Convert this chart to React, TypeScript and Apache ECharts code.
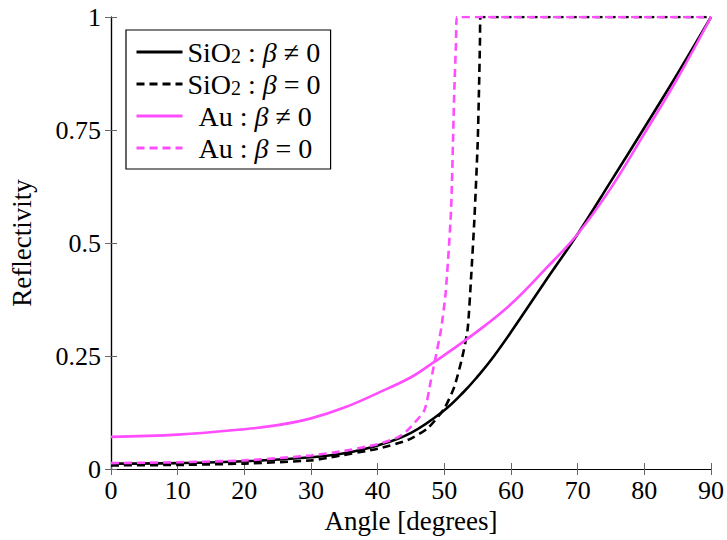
import React, { useEffect, useRef } from "react";
import * as echarts from "echarts";

// Angle [degrees] / reflectivity readings
const sio2BetaX = [0, 10, 20, 30, 35, 40, 45, 50, 53, 55, 57, 60, 65, 70, 75, 80, 85, 90];
const sio2BetaY = [0.012, 0.013, 0.017, 0.026, 0.035, 0.052, 0.08, 0.13, 0.172, 0.205, 0.241, 0.303, 0.412, 0.52, 0.637, 0.755, 0.875, 1.0];

const sio2NoBetaX = [0, 10, 20, 30, 33, 40, 44.5, 47.5, 50, 51.5, 52.7, 53.5, 54, 54.5, 55, 55.2, 55.35, 55.4, 60, 70, 80, 90];
const sio2NoBetaY = [0.008, 0.009, 0.012, 0.019, 0.026, 0.045, 0.064, 0.09, 0.134, 0.182, 0.248, 0.31, 0.42, 0.55, 0.72, 0.84, 0.95, 1, 1, 1, 1, 1];

const auBetaX = [0, 10, 20, 25, 30, 35, 40, 45, 48, 50, 55, 60, 65, 70, 75, 80, 85, 90];
const auBetaY = [0.071, 0.076, 0.088, 0.097, 0.112, 0.136, 0.168, 0.203, 0.232, 0.252, 0.305, 0.365, 0.44, 0.52, 0.622, 0.742, 0.865, 1.0];

const auNoBetaX = [0, 10, 20, 30, 35, 40, 43, 44.5, 47, 48, 48.7, 49.5, 50.2, 51, 51.5, 51.75, 51.9, 60, 70, 80, 90];
const auNoBetaY = [0.013, 0.015, 0.019, 0.03, 0.04, 0.055, 0.07, 0.086, 0.13, 0.197, 0.248, 0.308, 0.39, 0.57, 0.84, 0.94, 1, 1, 1, 1, 1];

const seriesNames = ["SiO₂ : β ≠ 0", "SiO₂ : β = 0", "Au : β ≠ 0", "Au : β = 0"];
const richLabels = [
  "{t|SiO}{sub|2}{t| : }{i|β}{t| ≠ 0}",
  "{t|SiO}{sub|2}{t| : }{i|β}{t| = 0}",
  "{au|Au}{t| : }{i|β}{t| ≠ 0}",
  "{au|Au}{t| : }{i|β}{t| = 0}",
];

const xTicks = { min: 0, max: 90, interval: 10 };
const yTicks = { min: 0, max: 1, interval: 0.25 };

const FONT = '"Liberation Serif", "DejaVu Serif", serif';
const PINK = "#ff4dff";

const zip = (xs: number[], ys: number[]) => xs.map((x, i) => [x, ys[i]]);

export default function App() {
  const ref = useRef<HTMLDivElement>(null);
  useEffect(() => {
    if (!ref.current) return;
    const chart = echarts.init(ref.current, undefined, { renderer: "svg" });
    const tickStyle = { show: true, inside: true, length: 6, lineStyle: { color: "#666", width: 1 } };
    const lineAxis = { show: true, lineStyle: { color: "#000", width: 1.2 } };
    const mk = (name: string, data: number[][], color: string, dashed: boolean) => ({
      name,
      type: "line",
      data,
      xAxisIndex: 0,
      yAxisIndex: 0,
      symbol: "none",
      smooth: dashed ? 0.2 : 0.4,
      lineStyle: { color, width: 2.6, type: dashed ? [8, 5] : "solid" },
      itemStyle: { color },
    });
    chart.setOption({
      animation: false,
      backgroundColor: "#fff",
      textStyle: { fontFamily: FONT },
      grid: { left: 107.5, right: 15, top: 17, bottom: 71, containLabel: false },
      xAxis: [
        {
          type: "value",
          ...xTicks,
          position: "bottom",
          name: "Angle [degrees]",
          nameLocation: "middle",
          nameGap: 38,
          nameTextStyle: { fontFamily: FONT, fontSize: 27, color: "#000" },
          axisLine: lineAxis,
          axisTick: tickStyle,
          axisLabel: { fontFamily: FONT, fontSize: 26, color: "#000", margin: 8 },
          splitLine: { show: false },
        },
        {
          type: "value",
          ...xTicks,
          position: "top",
          axisLine: lineAxis,
          axisTick: tickStyle,
          axisLabel: { show: false },
          splitLine: { show: false },
        },
      ],
      yAxis: [
        {
          type: "value",
          ...yTicks,
          position: "left",
          name: "Reflectivity",
          nameLocation: "middle",
          nameGap: 76,
          nameTextStyle: { fontFamily: FONT, fontSize: 27, color: "#000" },
          axisLine: lineAxis,
          axisTick: tickStyle,
          axisLabel: { fontFamily: FONT, fontSize: 26, color: "#000", margin: 10 },
          splitLine: { show: false },
        },
        {
          type: "value",
          ...yTicks,
          position: "right",
          axisLine: lineAxis,
          axisTick: tickStyle,
          axisLabel: { show: false },
          splitLine: { show: false },
        },
      ],
      legend: {
        orient: "vertical",
        left: 126,
        top: 30,
        padding: [8, 10, 7, 9],
        itemGap: 4,
        itemWidth: 46,
        itemHeight: 20,
        borderColor: "#000",
        borderWidth: 1.2,
        borderRadius: 0,
        backgroundColor: "#fff",
        itemStyle: { opacity: 0, borderWidth: 0 },
        lineStyle: { width: 3 },
        data: seriesNames,
        formatter: (name: string) => richLabels[seriesNames.indexOf(name)],
        textStyle: {
          fontFamily: FONT,
          fontSize: 28,
          lineHeight: 27,
          color: "#000",
          rich: {
            t: { fontFamily: FONT, fontSize: 28, lineHeight: 27, color: "#000" },
            au: { fontFamily: FONT, fontSize: 28, lineHeight: 27, color: "#000", padding: [0, 0, 0, 11] },
            i: { fontFamily: FONT, fontSize: 28, lineHeight: 27, color: "#000", fontStyle: "italic" },
            sub: { fontFamily: FONT, fontSize: 20, lineHeight: 19, color: "#000", padding: [8, 0, 0, 0] },
          },
        },
      },
      series: [
        mk(seriesNames[0], zip(sio2BetaX, sio2BetaY), "#000", false),
        mk(seriesNames[1], zip(sio2NoBetaX, sio2NoBetaY), "#000", true),
        mk(seriesNames[2], zip(auBetaX, auBetaY), PINK, false),
        mk(seriesNames[3], zip(auNoBetaX, auNoBetaY), PINK, true),
      ],
    });
    return () => chart.dispose();
  }, []);
  return <div ref={ref} style={{ width: 727, height: 540, position: "absolute", left: 0, top: 0 }} />;
}
